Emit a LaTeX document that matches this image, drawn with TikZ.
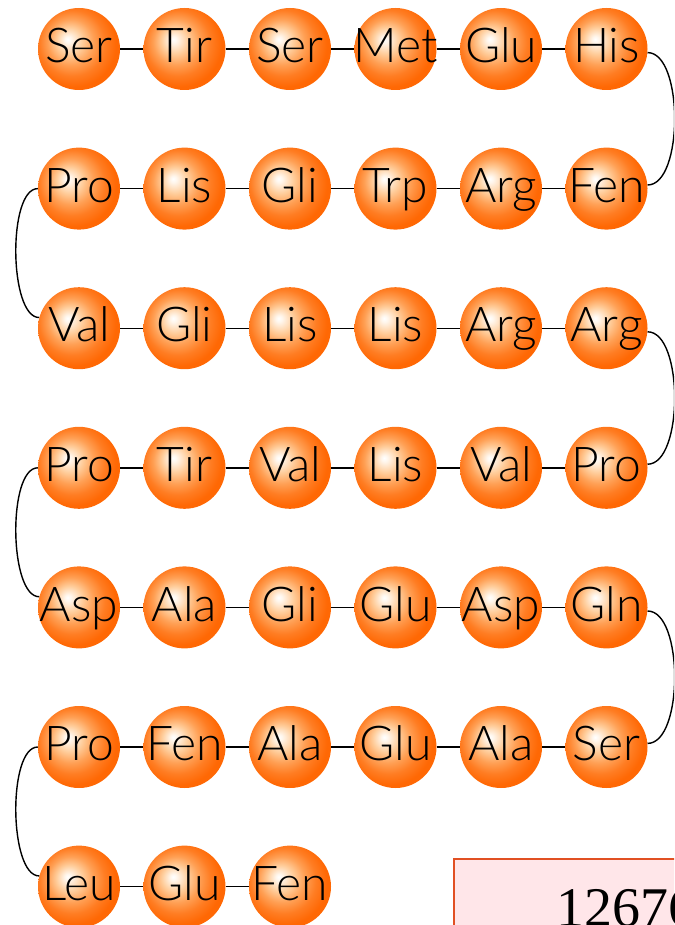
\documentclass[tikz,border=0pt]{standalone}
\usepackage{fontspec}
\newfontfamily\aminofont{Lato Light}
\newfontfamily\numfont{Liberation Serif}
\definecolor{ballhi}{RGB}{255,246,236}
\definecolor{ballpale}{RGB}{255,205,155}
\definecolor{ballmid}{RGB}{255,160,85}
\definecolor{balldeep}{RGB}{255,125,35}
\definecolor{balledge}{RGB}{255,104,4}
\definecolor{boxline}{RGB}{225,80,35}
\definecolor{boxfill}{RGB}{255,230,233}
\pgfdeclareradialshading{orangeball}{\pgfpoint{-7bp}{6bp}}{%
  color(0bp)=(white); color(2bp)=(ballhi); color(8bp)=(ballpale);
  color(14bp)=(ballmid); color(20bp)=(balldeep); color(26bp)=(balledge);
  color(50bp)=(balledge)}
\begin{document}
\begin{tikzpicture}[x=1pt,y=-1pt,
  amino/.style={circle,minimum size=82pt,inner sep=0pt,shade,shading=orangeball,
    font=\aminofont\fontsize{48}{48}\selectfont,text height=34.5pt,text depth=7pt},
  bond/.style={line width=1.4pt},
  numbox/.style={draw=boxline,fill=boxfill,line width=2pt,inner xsep=102pt,inner ysep=30pt,
    font=\numfont\fontsize{56}{56}\selectfont}]
\useasboundingbox (0,0) rectangle (674,925);
\clip (0,0) rectangle (674,925);
% chain, row by row
\foreach \r/\seq in {1/{Ser,Tir,Ser,Met,Glu,His},2/{Pro,Lis,Gli,Trp,Arg,Fen},
    3/{Val,Gli,Lis,Lis,Arg,Arg},4/{Pro,Tir,Val,Lis,Val,Pro},
    5/{Asp,Ala,Gli,Glu,Asp,Gln},6/{Pro,Fen,Ala,Glu,Ala,Ser},7/{Leu,Glu,Fen}}
  \foreach \aa [count=\c] in \seq
    \node[amino] (a\r-\c) at ({79+105.5*(\c-1)},{49+139.6*(\r-1)}) {\makebox[0pt]{\aa}};
\foreach \r in {1,...,6}
  \foreach \c [count=\d from 2] in {1,...,5}
    \draw[bond] (a\r-\c) -- (a\r-\d);
\draw[bond] (a7-1) -- (a7-2) -- (a7-3);
% turns at the row ends
\foreach \r/\s in {1/2,3/4,5/6}
  \draw[bond] (a\r-6.355) to[out=0,in=0,looseness=0.7] (a\s-6.5);
\foreach \r/\s in {2/3,4/5,6/7}
  \draw[bond] (a\r-1.west) to[out=180,in=180,looseness=0.6] (a\s-1.165);
\node[numbox,anchor=north west] (total) at (453,858) {12676};
\end{tikzpicture}
\end{document}
